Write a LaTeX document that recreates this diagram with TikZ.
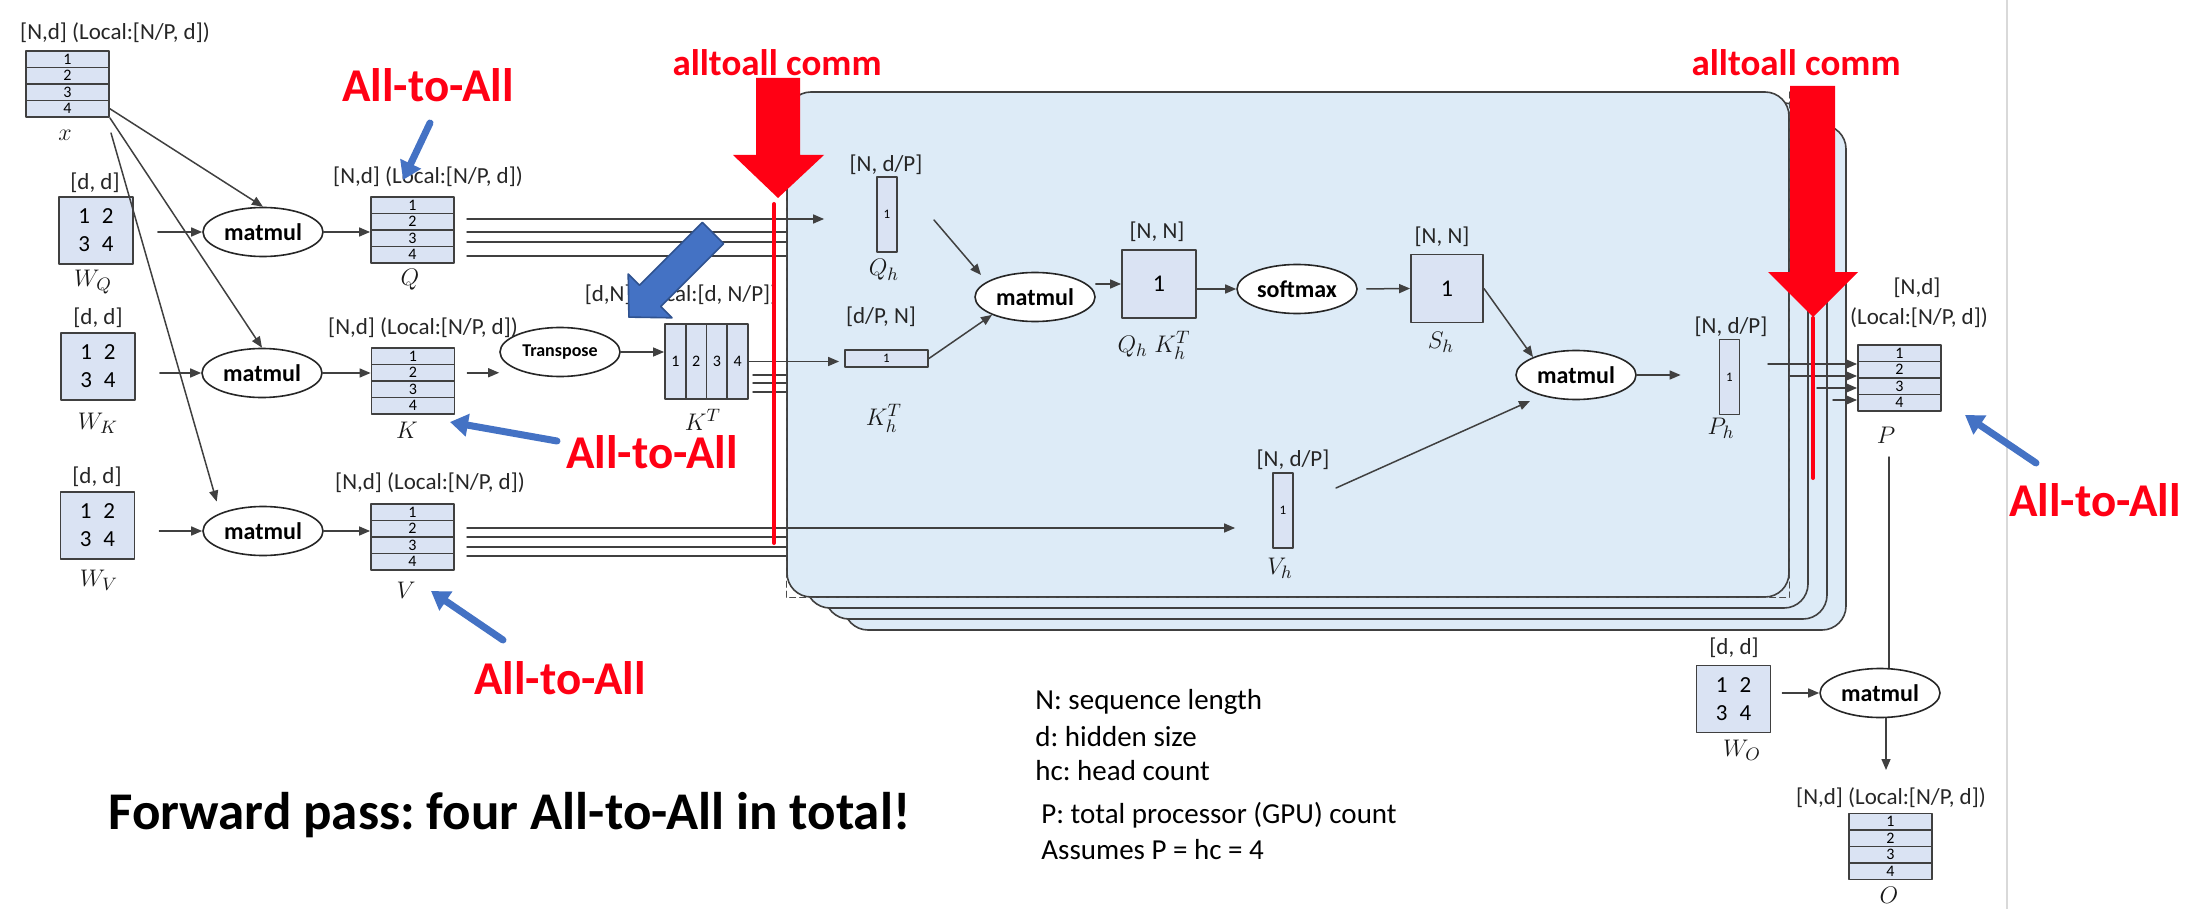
\documentclass[tikz,border=0pt]{standalone}
\usepackage{fontspec}
\setmainfont{Carlito}
\frenchspacing
\usetikzlibrary{shapes.geometric,arrows.meta}
\definecolor{cellfill}{RGB}{218,227,243}
\definecolor{panelfill}{RGB}{221,235,247}
\definecolor{edge}{RGB}{64,64,64}
\definecolor{alarm}{RGB}{255,0,20}
\definecolor{hint}{RGB}{68,114,196}
\definecolor{hintdark}{RGB}{47,82,143}
\tikzset{
	wire/.style={draw=black!75, line width=0.75pt},
	cell/.style={draw=edge, fill=cellfill, line width=0.9pt, inner sep=0pt},
	rowcell/.style={cell, minimum width=41.5pt, minimum height=8.25pt, font=\fontsize{8}{8}\selectfont},
	colcell/.style={cell, minimum width=10.4pt, minimum height=37.5pt, font=\fontsize{8}{8}\selectfont},
	headcol/.style={cell, minimum width=10pt, minimum height=37.5pt, font=\fontsize{6.5}{7}\selectfont},
	square/.style={cell, minimum width=37pt, minimum height=34pt, font=\fontsize{12}{12}\selectfont},
	wmat/.style={cell, minimum width=37pt, minimum height=33.5pt, align=center, font=\fontsize{11.5}{14}\selectfont},
	op/.style={ellipse, draw=black!85, fill=white, line width=0.8pt, minimum width=60pt, minimum height=24.5pt, inner sep=0pt, font=\bfseries\fontsize{12}{12}\selectfont},
	dims/.style={inner sep=0pt, text=black!85, font=\fontsize{11.5}{12}\selectfont},
	var/.style={inner sep=0pt, text=black!90, font=\fontsize{12.5}{13}\selectfont},
	shout/.style={inner sep=0pt, text=alarm, font=\bfseries\fontsize{23.5}{24}\selectfont},
	comm/.style={inner sep=0pt, text=alarm, font=\bfseries\fontsize{18.5}{19}\selectfont},
	note/.style={inner sep=0pt, anchor=west, font=\fontsize{14.5}{15}\selectfont},
	pointer/.style={draw=hint, line width=3.5pt, -{Triangle[length=9pt,width=11pt]}},
	panel/.style={draw=edge, fill=panelfill, line width=0.8pt, rounded corners=12pt, minimum width=501pt, minimum height=252.5pt, inner sep=0pt}
}
\newcommand{\rowmat}[3]{\foreach \rw in {1,...,4} \node[rowcell] (#1-\rw) at (#2,{#3+(\rw-2.5)*16.5}) {\rw};}

\begin{document}
\begin{tikzpicture}[x=0.5pt, y=-0.5pt, >={Triangle[length=5.5pt,width=4.5pt]}, line join=round, line cap=round]
	\useasboundingbox (0,0) rectangle (2209,909);
	\draw[black!15, line width=1pt] (2007,0)--(2007,909);
	\foreach \k in {3,2,1} \node[panel] (back\k) at ({1288+19*\k},{344.5+11*\k}) {};
	\node[panel] (front) at (1288,344.5) {};
	\draw[densely dashed, black!70, line width=0.6pt] (front.north west)--(front.south west)--(front.south east)--(front.north east);
	
	\rowmat{xm}{67.5}{84}
	\node[dims] (xdim) at (115,33) {[N,d] (Local:[N/P, d])};
	\node[var] (xlab) at (65,135) {$x$};
	
	\node[wmat] (WQ) at (96,230.5) {1\hspace{6pt}2\\3\hspace{6pt}4};
	\node[dims] (WQdim) at (95,183) {[d, d]};
	\node[var] (WQlab) at (93,282) {$W_Q$};
	\node[op] (mmQ) at (263,232) {matmul};
	\rowmat{Qm}{412.5}{230}
	\node[dims] (Qdim) at (428,177) {[N,d] (Local:[N/P, d])};
	\node[var] (Qlab) at (410,280) {$Q$};
	
	\node[wmat] (WK) at (98,366.5) {1\hspace{6pt}2\\3\hspace{6pt}4};
	\node[dims] (WKdim) at (98,318) {[d, d]};
	\node[var] (WKlab) at (98,423) {$W_K$};
	\node[op] (mmK) at (262,373) {matmul};
	\rowmat{Km}{413}{381}
	\node[dims] (Kdim) at (423,328) {[N,d] (Local:[N/P, d])};
	\node[var] (Klab) at (407,430) {$K$};
	\node[op, font=\bfseries\fontsize{9}{9}\selectfont] (tr) at (560,352) {Transpose};
	\foreach \c in {1,...,4} \node[colcell] (KT-\c) at ({665+(\c-0.5)*20.75},361.5) {\c};
	\node[dims] (KTdim) at (681,295) {[d,N] (Local:[d, N/P])};
	\node[var] (KTlab) at (703,420) {$K^T$};
	
	\node[wmat] (WV) at (97.5,525.5) {1\hspace{6pt}2\\3\hspace{6pt}4};
	\node[dims] (WVdim) at (97,477) {[d, d]};
	\node[var] (WVlab) at (99,580) {$W_V$};
	\node[op] (mmV) at (263,531) {matmul};
	\rowmat{Vm}{412.5}{537}
	\node[dims] (Vdim) at (430,483) {[N,d] (Local:[N/P, d])};
	\node[var] (Vlab) at (406,590) {$V$};
	
	\node[headcol] (Qh) at (887,214.5) {1};
	\node[dims] (Qhdim) at (886,165) {[N, d/P]};
	\node[var] (Qhlab) at (884,270) {$Q_h$};
	\node[cell, minimum width=41.5pt, minimum height=8.5pt, font=\fontsize{6.5}{7}\selectfont] (KhT) at (886.5,358.5) {1};
	\node[dims] (KhTdim) at (881,317) {[d/P, N]};
	\node[var] (KhTlab) at (884,418) {$K_h^T$};
	\node[op] (mmh) at (1035,297) {matmul};
	\node[square] (QK) at (1159,284) {1};
	\node[dims] (QKdim) at (1157,232) {[N, N]};
	\node[var] (QKlab) at (1154,345) {$Q_h\;K_h^T$};
	\node[op] (sm) at (1297,289) {softmax};
	\node[square, minimum width=36pt] (Sh) at (1447,288.5) {1};
	\node[dims] (Shdim) at (1442,237) {[N, N]};
	\node[var] (Shlab) at (1441,342) {$S_h$};
	\node[headcol] (Vh) at (1283,510.5) {1};
	\node[dims] (Vhdim) at (1293,460) {[N, d/P]};
	\node[var] (Vhlab) at (1280,568) {$V_h$};
	\node[op] (mmP) at (1576,375) {matmul};
	\node[headcol] (Ph) at (1729.5,377) {1};
	\node[dims] (Phdim) at (1731,327) {[N, d/P]};
	\node[var] (Phlab) at (1721,428) {$P_h$};
	
	\rowmat{Pm}{1899.5}{378}
	\node[dims] (Pdim) at (1917,288) {[N,d]};
	\node[dims] (Ploc) at (1919,318) {(Local:[N/P, d])};
	\node[var] (Plab) at (1886,435) {$P$};
	\node[wmat] (WO) at (1733.5,699) {1\hspace{6pt}2\\3\hspace{6pt}4};
	\node[dims] (WOdim) at (1734,648) {[d, d]};
	\node[var] (WOlab) at (1742,750) {$W_O$};
	\node[op] (mmO) at (1880,693) {matmul};
	\rowmat{Om}{1890.5}{846.5}
	\node[dims] (Odim) at (1891,798) {[N,d] (Local:[N/P, d])};
	\node[var] (Olab) at (1889,895) {$O$};
	
	\coordinate (xtail) at (111,133);
	\draw[wire,->] (xm-4.east)--(mmQ.north);
	\draw[wire,->] (xm-4.south east)--(mmK.north);
	\draw[wire,->,shorten >=6pt] (xtail)--(mmV.north west);
	\draw[wire,->,shorten <=12pt] (WQ.east |- mmQ.west)--(mmQ.west);
	\draw[wire,->,shorten <=12pt] (WK.east |- mmK.west)--(mmK.west);
	\draw[wire,->,shorten <=12pt] (WV.east |- mmV.west)--(mmV.west);
	\draw[wire,->] (mmQ.east)--(mmQ.east -| Qm-2.west);
	\draw[wire,->] (mmK.east)--(mmK.east -| Km-2.west);
	\draw[wire,->] (mmV.east)--(mmV.east -| Vm-2.west);
	\draw[wire,->,shorten <=6pt] (Km-2.east)--(Km-2.east -| tr.west);
	\draw[wire,->] (tr.east)--(tr.east -| KT-1.west);
	
	\foreach \y [count=\i] in {219,232,242,256} \coordinate (q\i) at (467,\y);
	\foreach \y [count=\i] in {528,537,547,556} \coordinate (v\i) at (467,\y);
	\foreach \y [count=\i] in {375,383,392} \coordinate (kb\i) at (753,\y);
	\foreach \i in {2,3,4} {\draw[wire] (q\i)--(q\i -| front.west); \draw[wire] (v\i)--(v\i -| front.west);}
	\foreach \i in {1,2,3} \draw[wire] (kb\i)--(kb\i -| front.west);
	\draw[wire,->,shorten >=26pt] (q1)--(q1 -| Qh.west);
	\draw[wire,->,shorten >=2.5pt] (KT-4.east)--(KT-4.east -| KhT.west);
	\draw[wire,->,shorten >=18.5pt] (v1)--(v1 -| Vh.west);
	
	\coordinate (qhout) at (934,220);
	\coordinate (mmhin) at (981,275);
	\coordinate (vhout) at (1336,488);
	\coordinate (mmPin) at (1530,401);
	\draw[wire,->] (qhout)--(mmhin);
	\draw[wire,->] (KhT.east)--(mmh.south west);
	\draw[wire,->] (mmh.east |- QK.west)--(QK.west);
	\draw[wire,->] (QK.east |- sm.west)--(sm.west);
	\draw[wire,->,shorten <=4.5pt] (sm.east)--(Sh.west);
	\draw[wire,->] (Sh.east)--(mmP.north west);
	\draw[wire,->] (vhout)--(mmPin);
	\draw[wire,->,shorten >=19pt] (mmP.east)--(mmP.east -| Ph.west);
	
	\foreach \x/\r [count=\i] in {1768/1,1790/2,1817/3,1833/4} \coordinate (p\i) at (\x,{364+(\r-1)*12});
	\foreach \i in {1,...,4} \draw[wire,->] (p\i)--(p\i -| Pm-1.west);
	\coordinate (pout) at (1889,457);
	\coordinate (oin) at (1886,770);
	\draw[wire] (pout)--(pout |- mmO.north);
	\draw[wire,->,shorten <=5.5pt] (WO.east |- mmO.west)--(mmO.west);
	\draw[wire,->] (mmO.south -| oin)--(oin);
	
	\fill[alarm] (756,78)--(800,78)--(800,155)--(824,155)--(778,198)--(733,155)--(756,155)--cycle;
	\fill[alarm] (1790,86)--(1835,86)--(1835,272)--(1858,272)--(1813,317)--(1768,272)--(1790,272)--cycle;
	\draw[alarm, line width=2pt] (774,204)--(774,543);
	\draw[alarm, line width=2pt] (1813,318)--(1813,478);
	\node[comm] (comm1) at (777,63) {alltoall comm};
	\node[comm] (comm2) at (1796,63) {alltoall comm};
	
	\draw[fill=hint, draw=hintdark, line width=0.8pt] (702.4,222.4)--(723.6,243.6)--(660.7,306.5)--(672,317.8)--(628.9,317.1)--(628.2,274)--(639.5,285.3)--cycle;
	\coordinate (bq0) at (430,123); \coordinate (bq1) at (403,180);
	\coordinate (bk0) at (557,441); \coordinate (bk1) at (450,422);
	\coordinate (bv0) at (503,640); \coordinate (bv1) at (431,591);
	\coordinate (bp0) at (2036,463); \coordinate (bp1) at (1965,415);
	\foreach \b in {bq,bk,bv,bp} \draw[pointer] (\b0)--(\b1);
	
	\node[shout] (a2aQ) at (428,85) {All-to-All};
	\node[shout] (a2aK) at (652,452) {All-to-All};
	\node[shout] (a2aV) at (560,678) {All-to-All};
	\node[shout] (a2aP) at (2095,500) {All-to-All};
	\node[inner sep=0pt, anchor=west, font=\bfseries\fontsize{26.5}{27}\selectfont] (fwd) at (108,815) {Forward pass: four All-to-All in total!};
	
	\node[note] (nN) at (1035,702) {N: sequence length};
	\node[note] (nd) at (1035,737) {d: hidden size};
	\node[note] (nhc) at (1035,771) {hc: head count};
	\node[note] (nP) at (1041,815) {P: total processor (GPU) count};
	\node[note] (nA) at (1041,850) {Assumes P = hc = 4};
\end{tikzpicture}
\end{document}
